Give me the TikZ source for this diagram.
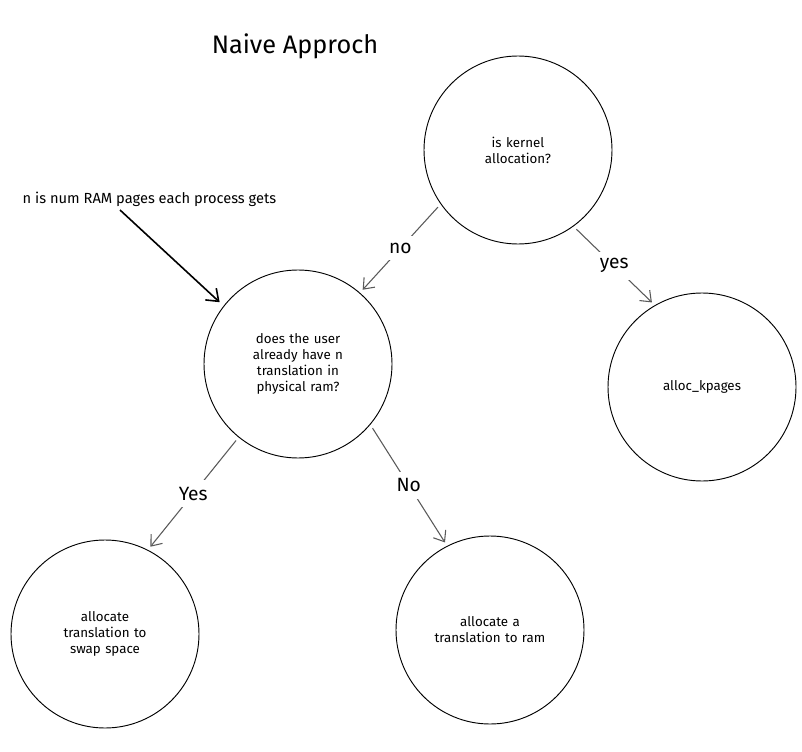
\documentclass[tikz,border=0pt]{standalone}
\usepackage{fontspec}
\setmainfont{Fira Sans}
\usetikzlibrary{arrows.meta}

\begin{document}
\begin{tikzpicture}[x=0.75pt,y=-0.75pt,
    state/.style={circle, draw, line width=0.7pt, minimum size=141pt, inner sep=0pt, align=center, font=\normalsize, text width=100pt},
    conn/.style={draw=black!65, line width=0.8pt, -{Straight Barb[length=7pt,width=11pt]}, shorten <=3pt, shorten >=3pt},
    lbl/.style={fill=white, inner sep=5pt, font=\Large}]
  \useasboundingbox (0,0) rectangle (802,752);
  \node[font=\fontsize{19}{23}\selectfont] (title) at (295,46) {Naive Approch};
  % decision nodes
  \node[state] (kernel) at (518,150) {is kernel\\allocation?};
  \node[state] (user) at (298,364) {does the user\\already have n\\translation in\\physical ram?};
  \node[state] (kpages) at (702,387) {alloc\_kpages};
  \node[state] (swap) at (105,634) {allocate\\translation to\\swap space};
  \node[state] (ram) at (490,630) {allocate a\\translation to ram};
  % edges
  \draw[conn] (kernel.-145) -- node[lbl] {no} (user.49);
  \draw[conn] (kernel.-54) -- node[lbl] {yes} (kpages.120);
  \draw[conn] (user.-129) -- node[lbl] {Yes} (swap.63);
  \draw[conn] (user.-40) -- node[lbl] {No} (ram.117);
  % note
  \node[anchor=west, font=\fontsize{11}{13}\selectfont] (note) at (18,199) {n is num RAM pages each process gets};
  \coordinate (notetail) at (120,210);
  \draw[line width=1.2pt, -{Straight Barb[length=8pt,width=12pt]}, shorten >=4pt] (notetail) -- (user.142);
\end{tikzpicture}
\end{document}
